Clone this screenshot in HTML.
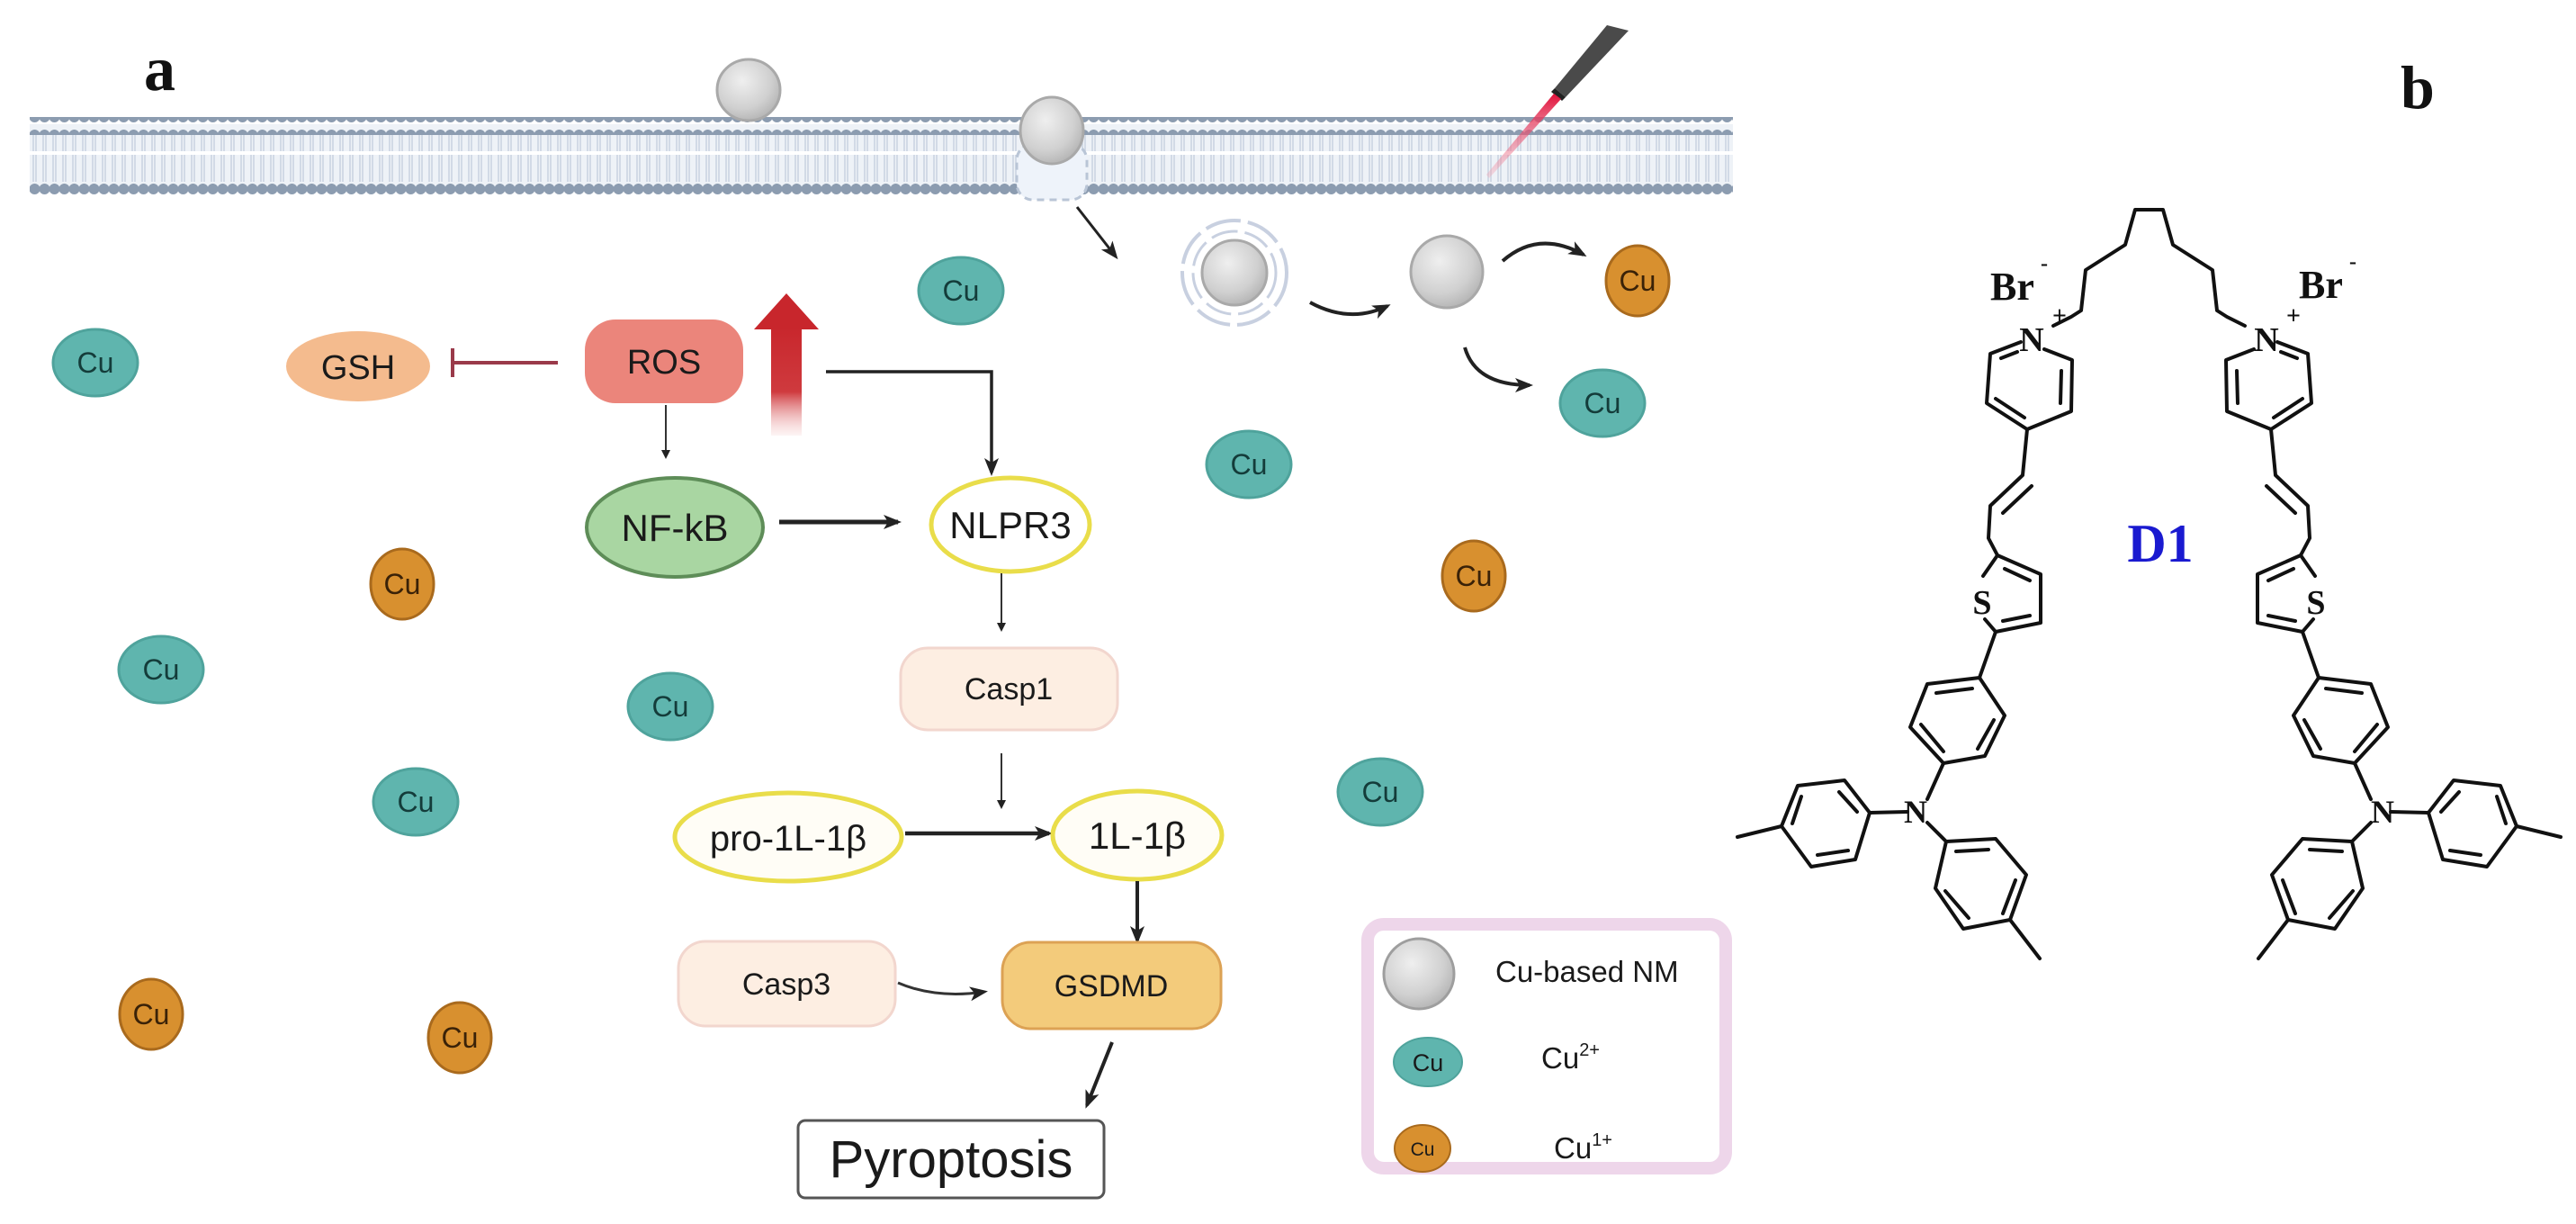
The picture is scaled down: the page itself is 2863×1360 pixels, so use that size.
<!DOCTYPE html>
<html><head><meta charset="utf-8"><style>
html,body{margin:0;padding:0;background:#fff;}
svg{display:block;}
.s{font-family:"Liberation Sans",sans-serif;fill:#1a1a1a;}
.r{font-family:"Liberation Serif",serif;font-weight:bold;fill:#111;}
.b{stroke:#111;stroke-width:4;fill:none;stroke-linejoin:round;stroke-linecap:round;}
</style></head><body>
<svg width="2863" height="1360" viewBox="0 0 2863 1360" xmlns="http://www.w3.org/2000/svg">
<defs>
 <pattern id="heads" x="33" y="0" width="11" height="20" patternUnits="userSpaceOnUse">
  <circle cx="5.5" cy="10" r="6" fill="#8c9cb0"/>
 </pattern>
 <pattern id="tails" x="33" y="0" width="11" height="20" patternUnits="userSpaceOnUse">
  <line x1="4" y1="0" x2="4" y2="20" stroke="#c9d3e0" stroke-width="1.5"/>
  <line x1="7" y1="0" x2="7" y2="20" stroke="#c9d3e0" stroke-width="1.5"/>
 </pattern>
 <radialGradient id="np" cx="40%" cy="35%" r="65%">
  <stop offset="0" stop-color="#efefef"/><stop offset="0.7" stop-color="#d0d0d0"/><stop offset="1" stop-color="#b8b8b8"/>
 </radialGradient>
 <linearGradient id="redarrow" x1="0" y1="0" x2="0" y2="1">
  <stop offset="0" stop-color="#c8262c"/><stop offset="0.6" stop-color="#cf3a3e"/><stop offset="1" stop-color="#f4c8c8" stop-opacity="0.2"/>
 </linearGradient>
 <linearGradient id="laser" x1="0" y1="0" x2="0" y2="1">
  <stop offset="0" stop-color="#e0103a"/><stop offset="1" stop-color="#f3a0b0" stop-opacity="0.3"/>
 </linearGradient>
 <marker id="ah" markerWidth="10" markerHeight="10" refX="8" refY="5" orient="auto" markerUnits="userSpaceOnUse" viewBox="0 0 10 10">
  <path d="M0,0 L10,5 L0,10 z" fill="#222"/>
 </marker>
 <marker id="ahb" markerWidth="20" markerHeight="20" refX="16" refY="10" orient="auto" markerUnits="userSpaceOnUse" viewBox="0 0 20 20">
  <path d="M0,2 L20,10 L0,18 L5,10 z" fill="#222"/>
 </marker>
</defs>

<!-- Membrane -->
<rect x="33" y="138" width="1893" height="70" fill="#eef2f7"/>
<rect x="33" y="146" width="1893" height="56" fill="url(#tails)"/>
<rect x="33" y="168" width="1893" height="4" fill="#ffffff"/>
<rect x="33" y="130" width="1893" height="20" fill="url(#heads)"/>
<rect x="33" y="196" width="1893" height="20" fill="url(#heads)"/>
<rect x="1130" y="160" width="78" height="62" rx="18" fill="#eef3fa" stroke="#b9c5d6" stroke-width="3" stroke-dasharray="8 6"/>

<ellipse cx="832" cy="100" rx="35" ry="34" fill="url(#np)" stroke="#a9a9a9" stroke-width="3"/>
<ellipse cx="1169" cy="145" rx="35" ry="37" fill="url(#np)" stroke="#a9a9a9" stroke-width="3"/>

<polygon points="1786,28 1810,34 1740,108 1728,98" fill="#4a4a4a"/>
<polygon points="1728,98 1740,108 1736,112 1724,102" fill="#222"/>
<polygon points="1727,104 1735,110 1655,198 1652,194" fill="url(#laser)"/>

<line x1="1197" y1="230" x2="1240" y2="285" stroke="#222" stroke-width="3" marker-end="url(#ahb)"/>

<circle cx="1372" cy="303" r="58" fill="none" stroke="#c8d0e0" stroke-width="4" stroke-dasharray="40 8"/>
<circle cx="1372" cy="303" r="46" fill="none" stroke="#c8d0e0" stroke-width="3" stroke-dasharray="30 8"/>
<circle cx="1372" cy="303" r="36" fill="url(#np)" stroke="#a9a9a9" stroke-width="3"/>
<path d="M1456,336 Q1500,360 1542,340" stroke="#222" stroke-width="4" fill="none" marker-end="url(#ahb)"/>
<ellipse cx="1608" cy="302" rx="40" ry="40" fill="url(#np)" stroke="#a9a9a9" stroke-width="3"/>
<path d="M1670,290 Q1710,255 1760,283" stroke="#222" stroke-width="4" fill="none" marker-end="url(#ahb)"/>
<path d="M1628,386 Q1640,428 1700,428" stroke="#222" stroke-width="4" fill="none" marker-end="url(#ahb)"/>

<g class="s" font-size="32" text-anchor="middle">
 <g fill="#5fb5ae" stroke="#4fa39c" stroke-width="3">
  <ellipse cx="1068" cy="323" rx="47" ry="37"/>
  <ellipse cx="106" cy="403" rx="47" ry="37"/>
  <ellipse cx="1781" cy="448" rx="47" ry="37"/>
  <ellipse cx="1388" cy="516" rx="47" ry="37"/>
  <ellipse cx="179" cy="744" rx="47" ry="37"/>
  <ellipse cx="745" cy="785" rx="47" ry="37"/>
  <ellipse cx="462" cy="891" rx="47" ry="37"/>
  <ellipse cx="1534" cy="880" rx="47" ry="37"/>
 </g>
 <g fill="#d8902f" stroke="#a96a1d" stroke-width="3">
  <ellipse cx="1820" cy="312" rx="35" ry="39"/>
  <ellipse cx="447" cy="649" rx="35" ry="39"/>
  <ellipse cx="1638" cy="640" rx="35" ry="39"/>
  <ellipse cx="168" cy="1127" rx="35" ry="39"/>
  <ellipse cx="511" cy="1153" rx="35" ry="39"/>
 </g>
 <g fill="#143c3a">
  <text x="1068" y="334">Cu</text><text x="106" y="414">Cu</text><text x="1781" y="459">Cu</text>
  <text x="1388" y="527">Cu</text><text x="179" y="755">Cu</text><text x="745" y="796">Cu</text>
  <text x="462" y="902">Cu</text><text x="1534" y="891">Cu</text>
 </g>
 <g fill="#3a2208">
  <text x="1820" y="323">Cu</text><text x="447" y="660">Cu</text><text x="1638" y="651">Cu</text>
  <text x="168" y="1138">Cu</text><text x="511" y="1164">Cu</text>
 </g>
</g>

<ellipse cx="398" cy="407" rx="80" ry="39" fill="#f4bb8e"/>
<text class="s" x="398" y="421" font-size="38" text-anchor="middle">GSH</text>
<rect x="650" y="355" width="176" height="93" rx="34" fill="#eb857b"/>
<text class="s" x="738" y="415" font-size="38" text-anchor="middle">ROS</text>
<line x1="620" y1="403" x2="503" y2="403" stroke="#9a3a4a" stroke-width="4"/>
<line x1="503" y1="387" x2="503" y2="419" stroke="#9a3a4a" stroke-width="4"/>
<rect x="857" y="362" width="34" height="122" fill="url(#redarrow)"/>
<polygon points="874,326 910,366 838,366" fill="#c8262c"/>
<polyline points="918,413 1102,413 1102,525" fill="none" stroke="#222" stroke-width="3.5" marker-end="url(#ahb)"/>
<line x1="740" y1="450" x2="740" y2="508" stroke="#333" stroke-width="2" marker-end="url(#ah)"/>
<ellipse cx="750" cy="586" rx="98" ry="55" fill="#a9d6a2" stroke="#5e8d58" stroke-width="4"/>
<text class="s" x="750" y="601" font-size="42" text-anchor="middle">NF-kB</text>
<line x1="866" y1="580" x2="998" y2="580" stroke="#222" stroke-width="5" marker-end="url(#ahb)"/>
<ellipse cx="1123" cy="583" rx="88" ry="52" fill="#fff" stroke="#e9dd4a" stroke-width="5"/>
<text class="s" x="1123" y="598" font-size="42" text-anchor="middle">NLPR3</text>
<line x1="1113" y1="637" x2="1113" y2="700" stroke="#333" stroke-width="2" marker-end="url(#ah)"/>
<rect x="1001" y="720" width="241" height="91" rx="30" fill="#fdeee2" stroke="#f2d6ce" stroke-width="3"/>
<text class="s" x="1121" y="777" font-size="34" text-anchor="middle">Casp1</text>
<line x1="1113" y1="837" x2="1113" y2="897" stroke="#333" stroke-width="2" marker-end="url(#ah)"/>
<ellipse cx="876" cy="930" rx="126" ry="49" fill="#fffdf6" stroke="#e9dd4a" stroke-width="5"/>
<text class="s" x="876" y="945" font-size="40" text-anchor="middle">pro-1L-1β</text>
<line x1="1006" y1="926" x2="1166" y2="926" stroke="#222" stroke-width="4.5" marker-end="url(#ahb)"/>
<ellipse cx="1264" cy="928" rx="94" ry="49" fill="#fffdf6" stroke="#e9dd4a" stroke-width="5"/>
<text class="s" x="1264" y="943" font-size="42" text-anchor="middle">1L-1β</text>
<line x1="1264" y1="979" x2="1264" y2="1045" stroke="#222" stroke-width="4" marker-end="url(#ahb)"/>
<rect x="754" y="1046" width="241" height="94" rx="30" fill="#fdeee2" stroke="#f2d6ce" stroke-width="3"/>
<text class="s" x="874" y="1105" font-size="34" text-anchor="middle">Casp3</text>
<rect x="1114" y="1047" width="243" height="96" rx="32" fill="#f3cb7b" stroke="#dca254" stroke-width="3"/>
<text class="s" x="1235" y="1107" font-size="34" text-anchor="middle">GSDMD</text>
<path d="M998,1092 Q1040,1110 1094,1102" fill="none" stroke="#333" stroke-width="3" marker-end="url(#ahb)"/>
<line x1="1236" y1="1158" x2="1208" y2="1228" stroke="#222" stroke-width="4" marker-end="url(#ahb)"/>
<rect x="887" y="1245" width="340" height="86" rx="8" fill="#fff" stroke="#555" stroke-width="3"/>
<text class="s" x="1057" y="1308" font-size="58" text-anchor="middle">Pyroptosis</text>

<rect x="1520" y="1027" width="398" height="271" rx="18" fill="#fff" stroke="#eed6ea" stroke-width="14"/>
<circle cx="1577" cy="1082" r="39" fill="url(#np)" stroke="#9e9e9e" stroke-width="3"/>
<text class="s" x="1662" y="1091" font-size="33">Cu-based NM</text>
<ellipse cx="1587" cy="1180" rx="38" ry="27" fill="#5fb5ae" stroke="#4fa39c" stroke-width="2"/>
<text class="s" x="1587" y="1190" font-size="27" text-anchor="middle" fill="#143c3a">Cu</text>
<text class="s" x="1713" y="1187" font-size="33">Cu<tspan font-size="20" dy="-14">2+</tspan></text>
<ellipse cx="1581" cy="1276" rx="31" ry="26" fill="#d8902f" stroke="#a96a1d" stroke-width="2"/>
<text class="s" x="1581" y="1284" font-size="21" text-anchor="middle" fill="#3a2208">Cu</text>
<text class="s" x="1727" y="1287" font-size="33">Cu<tspan font-size="20" dy="-14">1+</tspan></text>

<text class="r" x="160" y="100" font-size="70">a</text>
<text class="r" x="2668" y="120" font-size="68">b</text>
<text x="2401" y="624" font-family="Liberation Serif,serif" font-weight="bold" font-size="60" fill="#1a1ad0" text-anchor="middle">D1</text>

<g id="half">
 <polyline class="b" points="2390,233 2373,233 2362,272 2318,300 2313,345 2302,352 2282,362"/>
 <polyline class="b" points="2272,388 2303,400 2302,457 2253,477 2208,448 2212,393 2246,380"/>
 <line class="b" x1="2291" y1="412" x2="2290" y2="448"/>
 <line class="b" x1="2250" y1="464" x2="2218" y2="443"/>
 <line class="b" x1="2224" y1="398" x2="2242" y2="391"/>
 <polyline class="b" points="2253,477 2248,528 2212,562 2210,598 2220,617"/>
 <line class="b" x1="2258" y1="540" x2="2226" y2="570"/>
 <polyline class="b" points="2220,617 2268,638 2268,692 2218,702 2206,688"/>
 <polyline class="b" points="2220,617 2204,640"/>
 <line class="b" x1="2228" y1="632" x2="2256" y2="645"/>
 <line class="b" x1="2256" y1="684" x2="2226" y2="690"/>
 <line class="b" x1="2218" y1="702" x2="2200" y2="753"/>
 <polygon class="b" points="2200,753 2228,795 2206,840 2160,848 2123,808 2142,760"/>
 <line class="b" x1="2192" y1="765" x2="2152" y2="770"/>
 <line class="b" x1="2216" y1="800" x2="2198" y2="832"/>
 <line class="b" x1="2135" y1="805" x2="2160" y2="835"/>
 <line class="b" x1="2160" y1="848" x2="2142" y2="888"/>
 <line class="b" x1="2120" y1="902" x2="2078" y2="903"/>
 <polygon class="b" points="2078,903 2050,867 1998,873 1980,918 2013,963 2062,955"/>
 <line class="b" x1="2044" y1="880" x2="2064" y2="902"/>
 <line class="b" x1="2002" y1="885" x2="1992" y2="915"/>
 <line class="b" x1="2020" y1="950" x2="2054" y2="945"/>
 <line class="b" x1="1980" y1="918" x2="1931" y2="930"/>
 <line class="b" x1="2142" y1="914" x2="2163" y2="935"/>
 <polygon class="b" points="2163,935 2218,932 2252,972 2234,1022 2182,1032 2151,987"/>
 <line class="b" x1="2174" y1="946" x2="2210" y2="944"/>
 <line class="b" x1="2240" y1="978" x2="2226" y2="1015"/>
 <line class="b" x1="2188" y1="1020" x2="2162" y2="990"/>
 <line class="b" x1="2234" y1="1022" x2="2267" y2="1065"/>
</g>
<use href="#half" transform="translate(4777,0) scale(-1,1)"/>
<!-- atom labels (not mirrored) -->
<text class="r" x="2203" y="682" font-size="38" font-weight="normal" text-anchor="middle">S</text>
<text class="r" x="2574" y="682" font-size="38" font-weight="normal" text-anchor="middle">S</text>
<text class="r" x="2129" y="914" font-size="36" font-weight="normal" text-anchor="middle">N</text>
<text class="r" x="2648" y="914" font-size="36" font-weight="normal" text-anchor="middle">N</text>
<text class="r" x="2258" y="390" font-size="38" text-anchor="middle">N</text>
<text class="r" x="2289" y="360" font-size="28" font-weight="normal" text-anchor="middle">+</text>
<text class="r" x="2519" y="390" font-size="38" text-anchor="middle">N</text>
<text class="r" x="2549" y="360" font-size="28" font-weight="normal" text-anchor="middle">+</text>
<text class="r" x="2212" y="333" font-size="44">Br</text>
<text class="r" x="2268" y="300" font-size="24" font-weight="normal">-</text>
<text class="r" x="2555" y="331" font-size="44">Br</text>
<text class="r" x="2611" y="298" font-size="24" font-weight="normal">-</text>
</svg>
</body></html>
